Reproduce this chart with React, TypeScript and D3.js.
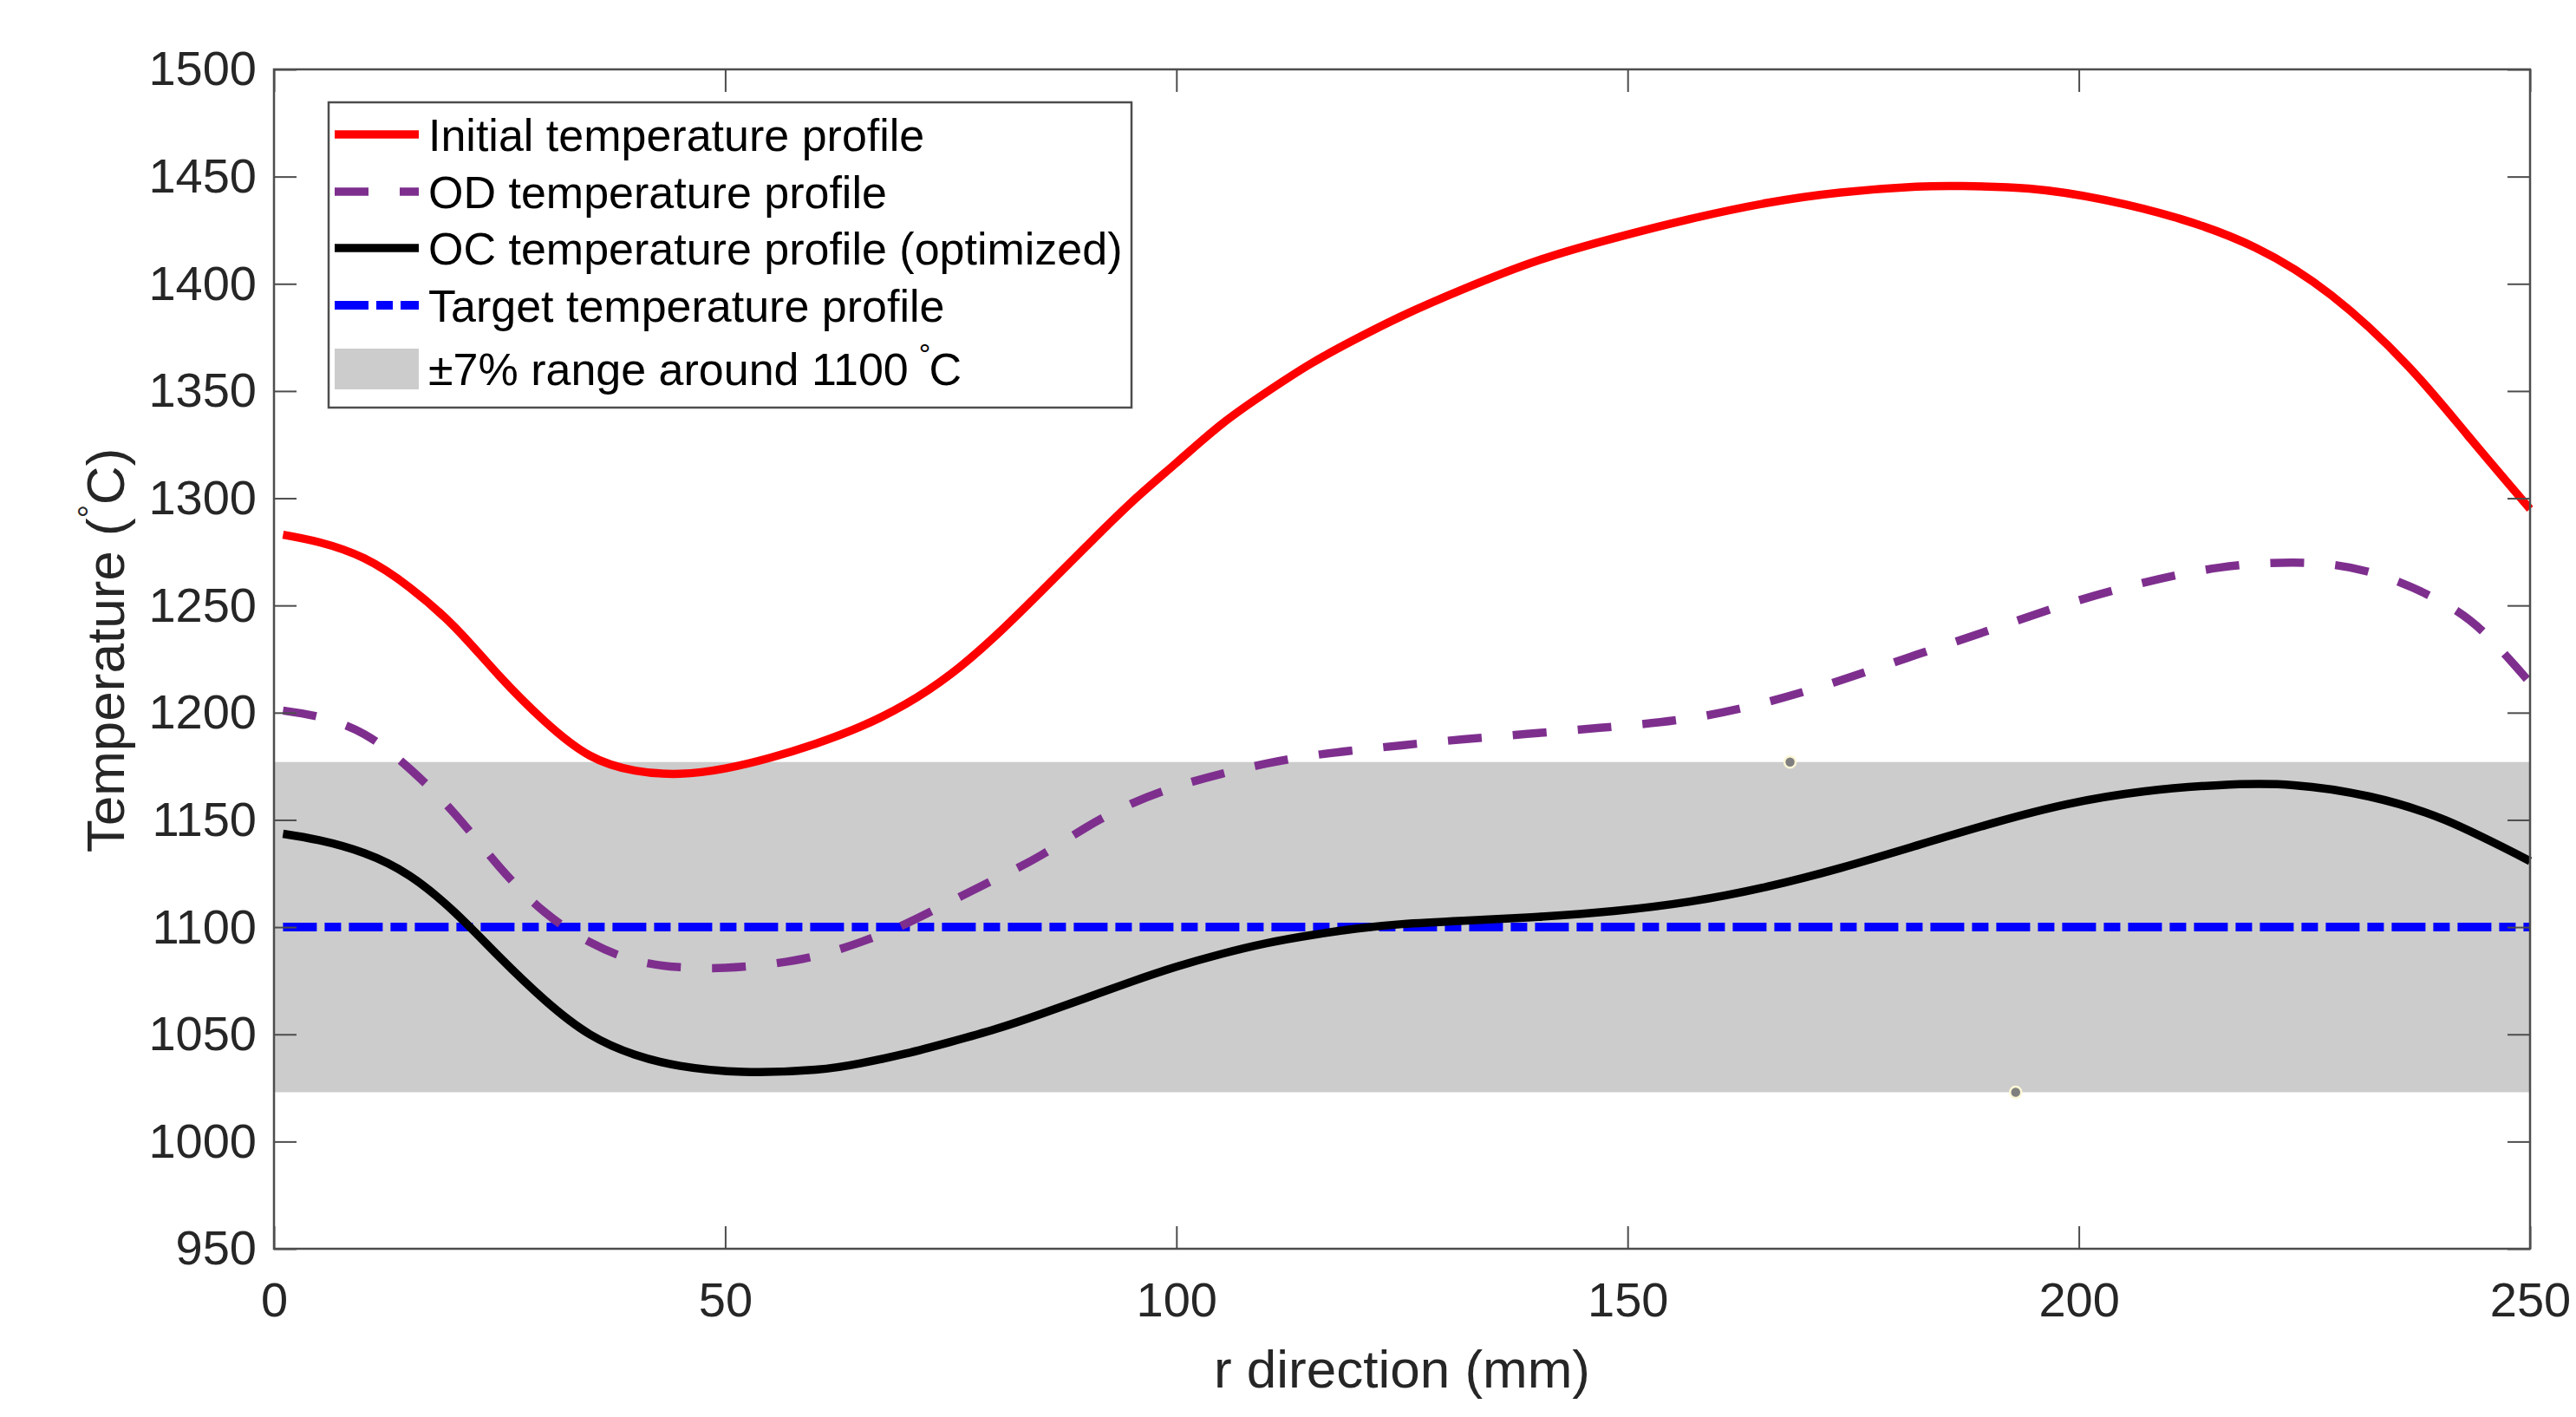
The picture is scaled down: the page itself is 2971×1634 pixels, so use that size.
import React, { useEffect, useRef } from 'react';
import * as d3 from 'd3';

// r positions (mm) and temperatures (°C)
const initialX = [1, 5, 10, 15, 20, 25, 30, 35, 40, 45, 50, 55, 60, 65, 70, 75, 80, 85, 90, 95, 100, 105, 110, 115, 120, 125, 131.8, 140.1, 148.5, 156.9, 165.3, 173.6, 182, 187, 194.5, 202.9, 211.3, 219.6, 228, 236.4, 243.1, 250];
const initialT = [1283, 1279.5, 1272, 1258.5, 1240, 1217, 1196, 1180, 1173, 1171.5, 1174, 1179, 1185.5, 1193.5, 1204, 1218, 1236, 1256.5, 1277.5, 1298, 1316.5, 1334.5, 1349.5, 1363, 1374.5, 1385, 1397.5, 1410.9, 1421.3, 1430.2, 1437.6, 1442.6, 1445.3, 1445.6, 1444.4, 1439.1, 1430.2, 1416.8, 1394.6, 1362, 1329.3, 1295];

const odX = [1, 5, 10, 15, 20, 25, 30, 35, 40, 45, 50, 55, 60, 65, 70, 75, 80, 85, 90, 95, 100, 105, 110, 115, 120, 125, 131.8, 140.1, 148.5, 156.9, 165.3, 173.6, 182, 190.4, 198.7, 207.1, 215.5, 223.8, 232.2, 240.6, 245.6, 250];
const odT = [1201, 1198, 1190, 1174, 1153, 1128, 1107, 1093, 1084.5, 1081.3, 1081, 1082.8, 1086.5, 1093, 1101.5, 1112, 1122.5, 1133.5, 1146.5, 1157.5, 1165.5, 1171.5, 1176.3, 1180, 1182.6, 1184.8, 1187.6, 1190.5, 1193.5, 1197.4, 1204.8, 1215.1, 1227, 1238.9, 1250.7, 1260.5, 1267.6, 1270, 1265.6, 1250.7, 1234.4, 1214];

const ocX = [1, 5, 10, 15, 20, 25, 30, 35, 40, 45, 52, 60, 65, 70, 75, 80, 85, 90, 95, 100, 105, 110, 115, 120, 125, 131.8, 140.1, 148.5, 156.9, 165.3, 173.6, 182, 190.4, 198.7, 207.1, 215.5, 223.8, 232.2, 240.6, 250];
const ocT = [1143.5, 1140.5, 1134.5, 1124, 1107, 1086, 1066, 1050, 1040.5, 1035.3, 1032.5, 1033.5, 1036.5, 1041, 1046.5, 1052.5, 1059.5, 1067, 1074.5, 1081.5, 1087.5, 1092.5, 1096.3, 1099.3, 1101.4, 1103, 1104.8, 1107.5, 1111.9, 1118.7, 1127.6, 1138, 1148.4, 1157.3, 1163.2, 1166.2, 1166.2, 1160.9, 1149.9, 1130.8];

const targetX = [1, 250];
const targetT = [1100, 1100];

const bandRange = [0, 250];
const bandLow = 1023;
const bandHigh = 1177;

// the two small data-tip dots left on the figure
const tipX = [168, 193];
const tipT = [1177, 1023];

const xTicks = [0, 50, 100, 150, 200, 250];
const yTicks = [950, 1000, 1050, 1100, 1150, 1200, 1250, 1300, 1350, 1400, 1450, 1500];

const legendLabels = [
  'Initial temperature profile',
  'OD temperature profile',
  'OC temperature profile (optimized)',
  'Target temperature profile',
];

const FONT = '"Liberation Sans", Arial, Helvetica, sans-serif';

export default function App() {
  const svgRef = useRef<SVGSVGElement>(null);

  useEffect(() => {
    if (!svgRef.current) return;
    const svg = d3.select(svgRef.current);
    svg.selectAll('*').remove();

    const W = 2971;
    const H = 1634;
    const plot = { left: 316, right: 2918, top: 80, bottom: 1440 };

    svg.append('rect').attr('width', W).attr('height', H).attr('fill', '#fff');

    const x = d3.scaleLinear().domain([0, 250]).range([plot.left, plot.right]);
    const y = d3.scaleLinear().domain([950, 1500]).range([plot.bottom, plot.top]);

    // ±7% band
    svg.append('rect')
      .attr('x', x(bandRange[0]))
      .attr('y', y(bandHigh))
      .attr('width', x(bandRange[1]) - x(bandRange[0]))
      .attr('height', y(bandLow) - y(bandHigh))
      .attr('fill', '#cccccc');

    const line = d3.line<[number, number]>()
      .x(d => x(d[0]))
      .y(d => y(d[1]))
      .curve(d3.curveNatural);

    const series = [
      { xs: targetX, ys: targetT, color: '#0000ff', dash: '39,9,19,9', width: 10 },
      { xs: initialX, ys: initialT, color: '#ff0000', dash: null, width: 9.5 },
      { xs: odX, ys: odT, color: '#7e2f8e', dash: '39,36', width: 9.5 },
      { xs: ocX, ys: ocT, color: '#000000', dash: null, width: 9.5 },
    ];

    series.forEach(s => {
      const pts = s.xs.map((v, i) => [v, s.ys[i]] as [number, number]);
      svg.append('path')
        .datum(pts)
        .attr('fill', 'none')
        .attr('stroke', s.color)
        .attr('stroke-width', s.width)
        .attr('stroke-dasharray', s.dash)
        .attr('d', line);
    });

    // data tip dots
    tipX.forEach((v, i) => {
      svg.append('circle')
        .attr('cx', x(v))
        .attr('cy', y(tipT[i]))
        .attr('r', 6.5)
        .attr('fill', '#7f7f7f')
        .attr('stroke', '#fbf7d6')
        .attr('stroke-width', 2.5);
    });

    // axes box with inward ticks
    const axisColor = '#4d4d4d';
    const styleAxis = (g: any) => {
      g.select('.domain').remove();
      g.selectAll('.tick line').attr('stroke', axisColor).attr('stroke-width', 2);
      g.selectAll('.tick text')
        .attr('fill', '#262626')
        .style('font-family', FONT)
        .style('font-size', '56px');
    };
    const fmt = d3.format('d');

    svg.append('g')
      .attr('transform', `translate(0,${plot.bottom})`)
      .call(d3.axisBottom(x).tickValues(xTicks).tickFormat(fmt).tickSizeInner(-26).tickSizeOuter(0).tickPadding(38))
      .call(styleAxis);
    svg.append('g')
      .attr('transform', `translate(${plot.left},0)`)
      .call(d3.axisLeft(y).tickValues(yTicks).tickFormat(fmt).tickSizeInner(-26).tickSizeOuter(0).tickPadding(20))
      .call(styleAxis);
    svg.append('g')
      .attr('transform', `translate(0,${plot.top})`)
      .call(d3.axisTop(x).tickValues(xTicks).tickSizeInner(-26).tickSizeOuter(0).tickFormat(() => ''))
      .call(styleAxis);
    svg.append('g')
      .attr('transform', `translate(${plot.right},0)`)
      .call(d3.axisRight(y).tickValues(yTicks).tickSizeInner(-26).tickSizeOuter(0).tickFormat(() => ''))
      .call(styleAxis);

    svg.append('rect')
      .attr('x', plot.left)
      .attr('y', plot.top)
      .attr('width', plot.right - plot.left)
      .attr('height', plot.bottom - plot.top)
      .attr('fill', 'none')
      .attr('stroke', axisColor)
      .attr('stroke-width', 2.5);

    // axis labels
    svg.append('text')
      .attr('x', (plot.left + plot.right) / 2)
      .attr('y', 1600)
      .attr('text-anchor', 'middle')
      .style('font-family', FONT)
      .style('font-size', '62px')
      .attr('fill', '#262626')
      .text('r direction (mm)');

    const yl = svg.append('text')
      .attr('transform', `translate(143,750) rotate(-90)`)
      .attr('text-anchor', 'middle')
      .style('font-family', FONT)
      .style('font-size', '62px')
      .attr('fill', '#262626');
    yl.append('tspan').text('Temperature (');
    yl.append('tspan').attr('dy', -26).style('font-size', '38px').text('°');
    yl.append('tspan').attr('dy', 26).text('C)');

    // legend
    const lg = svg.append('g').attr('transform', 'translate(379,118)');
    lg.append('rect')
      .attr('width', 926)
      .attr('height', 352)
      .attr('fill', '#fff')
      .attr('stroke', axisColor)
      .attr('stroke-width', 2.5);

    const rowY = [37, 103, 168, 234];
    series.slice(1).concat(series.slice(0, 1)).forEach((s, i) => {
      lg.append('line')
        .attr('x1', 7).attr('x2', 104)
        .attr('y1', rowY[i]).attr('y2', rowY[i])
        .attr('stroke', s.color)
        .attr('stroke-width', s.width)
        .attr('stroke-dasharray', s.dash);
      lg.append('text')
        .attr('x', 115)
        .attr('y', rowY[i])
        .attr('dy', '0.36em')
        .style('font-family', FONT)
        .style('font-size', '52px')
        .attr('fill', '#000')
        .text(legendLabels[i]);
    });

    lg.append('rect')
      .attr('x', 7).attr('y', 284)
      .attr('width', 97).attr('height', 47)
      .attr('fill', '#cccccc');
    const bt = lg.append('text')
      .attr('x', 115)
      .attr('y', 307)
      .attr('dy', '0.36em')
      .style('font-family', FONT)
      .style('font-size', '52px')
      .attr('fill', '#000');
    bt.append('tspan').text('±7% range around 1100');
    bt.append('tspan').attr('dx', 12).attr('dy', -24).style('font-size', '34px').text('°');
    bt.append('tspan').attr('dx', -2).attr('dy', 24).text('C');
  }, []);

  return (
    <svg
      ref={svgRef}
      width={2971}
      height={1634}
      style={{ position: 'absolute', left: 0, top: 0, display: 'block' }}
    ></svg>
  );
}
